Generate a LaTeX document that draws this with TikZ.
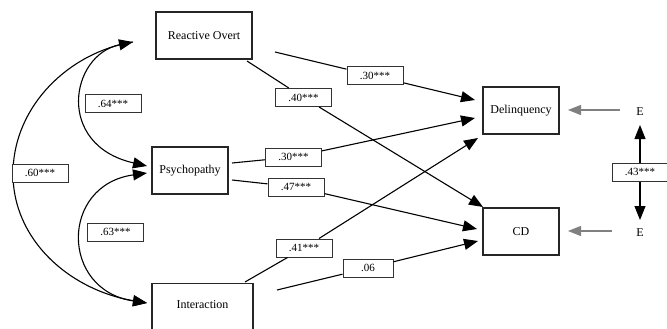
\documentclass[tikz,border=0pt]{standalone}
\usepackage{fontspec}
\setmainfont{Liberation Serif}
\usetikzlibrary{arrows.meta}
\tikzset{
  varbox/.style={draw=black!85, line width=1.2pt, fill=white, inner sep=0pt, font=\fontsize{12}{14}\selectfont},
  coef/.style={draw=black!80, line width=1pt, fill=white, inner sep=0pt, minimum width=56pt, minimum height=18pt, font=\fontsize{11}{13}\selectfont},
  path/.style={line width=1.1pt, -{Triangle[length=14pt,width=11pt]}},
  cov/.style={line width=1.1pt, {Triangle[length=14pt,width=11pt]}-{Triangle[length=14pt,width=11pt]}},
  covend/.style={line width=1.1pt, -{Triangle[length=14pt,width=11pt]}},
  err/.style={line width=1.1pt, draw=black!50, -{Triangle[length=13pt,width=10pt]}, black!50},
  plainline/.style={line width=1.1pt},
  etext/.style={inner sep=0pt, font=\fontsize{12}{14}\selectfont}
}
\begin{document}
\begin{tikzpicture}[x=1pt,y=-1pt]
\clip (0,0) rectangle (667,329);
\fill[white] (0,0) rectangle (667,329);

% variable boxes
\node[varbox, minimum width=96pt, minimum height=47pt] (ro) at (204,35.5) {Reactive Overt};
\node[varbox, minimum width=76pt, minimum height=47pt] (ps) at (190,170.5) {Psychopathy};
\node[varbox, minimum width=101pt, minimum height=60pt, anchor=north] (in) at (202.5,283) {};
\node[etext] (intext) at (202.5,305) {Interaction};
\node[varbox, minimum width=76pt, minimum height=47pt] (dq) at (521,110.5) {Delinquency};
\node[varbox, minimum width=76pt, minimum height=47pt] (cd) at (521,231.5) {CD};

% error terms
\node[etext] (e1) at (640,112) {E};
\node[etext] (e2) at (640,233) {E};

% endpoints of connectors
\coordinate (roA) at (133,42);
\coordinate (psA1) at (147,166);
\coordinate (psA2) at (147,173);
\coordinate (inA) at (147,303);
\coordinate (mid60) at (13,172);

\coordinate (roS1) at (275,52);
\coordinate (roS2) at (247,61);
\coordinate (psS1) at (232,163);
\coordinate (psS2) at (232,180);
\coordinate (inS1) at (245,282);
\coordinate (inS2) at (277,290);

\coordinate (dqT1) at (475,100);
\coordinate (dqT2) at (475,118);
\coordinate (dqT3) at (478,138);
\coordinate (cdT1) at (483,207);
\coordinate (cdT2) at (477,229);
\coordinate (cdT3) at (478,241);

\coordinate (e1S) at (620,110);
\coordinate (e2S) at (612,231);
\coordinate (dqE) at (568,110);
\coordinate (cdE) at (568,231);
\coordinate (e1T) at (640,125);
\coordinate (e2T) at (640,220);

% covariance curves
\draw[cov] (roA) .. controls (70,55) and (55,145) .. (psA1);
\draw[plainline] (roA) .. controls (70,52) and (14,105) .. (mid60);
\draw[covend] (mid60) .. controls (12,240) and (70,290) .. (inA);
\draw[cov] (psA2) .. controls (60,185) and (60,290) .. (inA);

% coefficient labels
\node[coef] (c64) at (113,103.5) {.64***};
\node[coef] (c60) at (40,173) {.60***};
\node[coef] (c63) at (115.5,232) {.63***};
\node[coef] (c40) at (303.5,97.5) {.40***};
\node[coef] (c30a) at (375,76) {.30***};
\node[coef] (c30b) at (293.5,157) {.30***};
\node[coef] (c47) at (296,187) {.47***};
\node[coef] (c41) at (304,248) {.41***};
\node[coef, minimum width=50pt] (c06) at (368,268) {.06};

% structural paths
\draw[path] (roS1) -- (c30a) -- (dqT1);
\draw[path] (roS2) -- (c40) -- (cdT1);
\draw[path] (psS1) -- (c30b) -- (dqT2);
\draw[path] (psS2) -- (c47) -- (cdT2);
\draw[path] (inS1) -- (c41) -- (dqT3);
\draw[path] (inS2) -- (c06) -- (cdT3);

% error arrows
\draw[err] (e1S) -- (dqE);
\draw[err] (e2S) -- (cdE);

% error covariance
\node[coef] (c43) at (640,172) {.43***};
\draw[path] (c43) -- (e1T);
\draw[path] (c43) -- (e2T);
\end{tikzpicture}
\end{document}
